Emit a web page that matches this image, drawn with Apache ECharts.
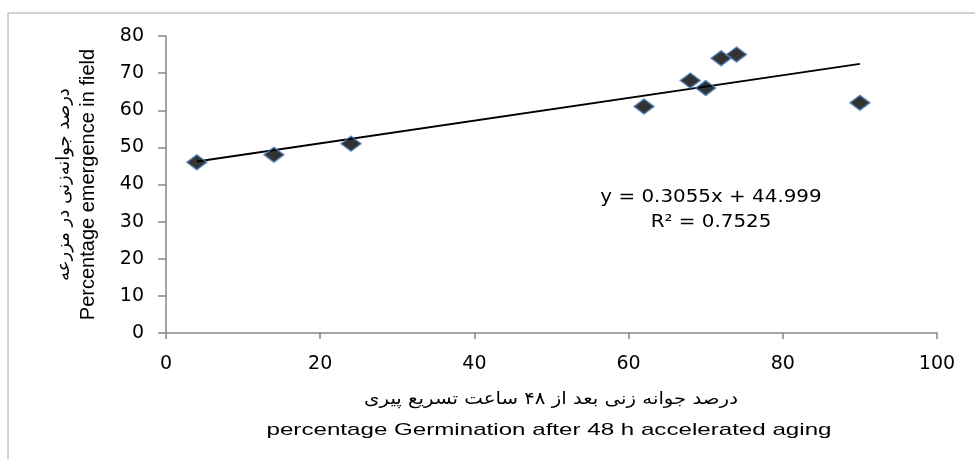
<!DOCTYPE html>
<html><head><meta charset="utf-8">
<script src="https://cdn.jsdelivr.net/npm/echarts@6/dist/echarts.min.js"></script>
<style>html,body{margin:0;padding:0;background:#fff}#c{width:975px;height:459px}</style>
</head><body><div id="c"></div>
<script>
const germination = [4, 14, 24, 62, 68, 70, 72, 74, 90];
const emergence   = [46, 48, 51, 61, 68, 66, 74, 75, 62];
const trendCoef = [0.3055, 44.999]; // slope, intercept
const equationText = ['y = 0.3055x + 44.999', 'R² = 0.7525'];
const xTitleFa = 'درصد جوانه زنی بعد از ۴۸ ساعت تسریع پیری';
const xTitleEn = 'percentage Germination after 48 h accelerated aging';
const yTitleFa = 'درصد جوانه‌زنی در مزرعه';
const yTitleEn = 'Percentage emergence in field';

const pts = germination.map((x, i) => [x, emergence[i]]);
const xmin = Math.min(...germination), xmax = Math.max(...germination);
const trend = [[xmin, trendCoef[0]*xmin + trendCoef[1]], [xmax, trendCoef[0]*xmax + trendCoef[1]]];

const chart = echarts.init(document.getElementById('c'), null, {renderer: 'canvas'});
const axisGray = '#868686';
chart.setOption({
  animation: false,
  grid: {left: 166, right: 38, top: 36, bottom: 126},
  graphic: [
    {type: 'rect', shape: {x: 8, y: 13, width: 1000, height: 500}, style: {fill: 'none', stroke: '#A6A6A6', lineWidth: 1}, silent: true, z: -1},
    {type: 'text', x: 711, y: 210, scaleX: 1.17,
     style: {text: equationText.join('\n'), font: '17px "DejaVu Sans"', fill: '#000', align: 'center', verticalAlign: 'middle', lineHeight: 25}},
    {type: 'text', x: 551, y: 400, scaleX: 1.16,
     style: {text: xTitleFa, font: '17px "DejaVu Sans"', fill: '#000', align: 'center', verticalAlign: 'middle'}},
    {type: 'text', x: 549, y: 430, scaleX: 1.42,
     style: {text: xTitleEn, font: '17px "Liberation Sans"', fill: '#000', align: 'center', verticalAlign: 'middle'}}
  ],
  xAxis: {
    type: 'value', min: 0, max: 100, interval: 20,
    axisLine: {show: true, onZero: false, lineStyle: {color: axisGray, width: 1.5}},
    axisTick: {show: true, length: 6, lineStyle: {color: axisGray, width: 1.5}},
    splitLine: {show: false},
    axisLabel: {margin: 22, color: '#000', fontSize: 19, fontFamily: 'DejaVu Sans'}
  },
  yAxis: {
    type: 'value', min: 0, max: 80, interval: 10,
    axisLine: {show: true, lineStyle: {color: axisGray, width: 1.5}},
    axisTick: {show: true, length: 8, lineStyle: {color: axisGray, width: 1.5}},
    splitLine: {show: false},
    axisLabel: {margin: 22, color: '#000', fontSize: 19, fontFamily: 'DejaVu Sans'},
    name: '{fa|' + yTitleFa + '}\n{en|' + yTitleEn + '}',
    nameLocation: 'middle', nameRotate: 90, nameGap: 66,
    nameTextStyle: {
      rich: {
        fa: {fontFamily: 'DejaVu Sans', fontSize: 18, color: '#000', lineHeight: 24},
        en: {fontFamily: 'Liberation Sans', fontSize: 20, color: '#000', lineHeight: 24}
      }
    }
  },
  series: [
    {type: 'line', data: trend, symbol: 'none', lineStyle: {color: '#000', width: 2}, z: 1, silent: true},
    {type: 'scatter', data: pts, symbol: 'diamond', symbolSize: [20, 15],
     itemStyle: {color: '#000', borderColor: '#4F81BD', borderWidth: 1.5}, z: 3}
  ]
});
</script>
</body></html>
